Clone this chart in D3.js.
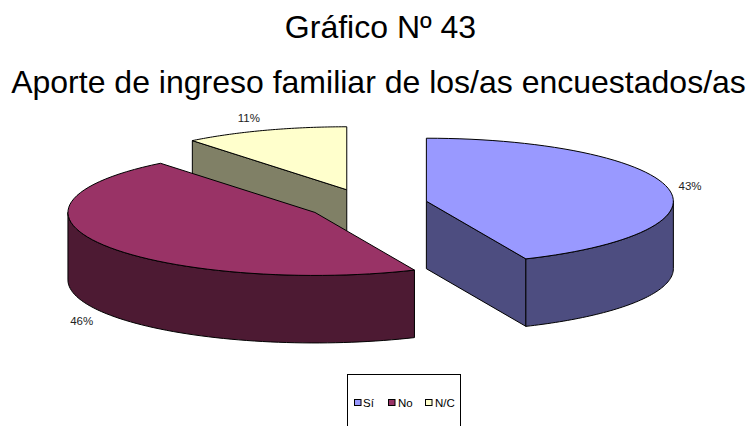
<!DOCTYPE html>
<html>
<head>
<meta charset="utf-8">
<script src="https://cdnjs.cloudflare.com/ajax/libs/d3/7.8.5/d3.min.js"></script>
<style>
html, body { margin: 0; padding: 0; background: #fff; overflow: hidden; }
text { font-family: "Liberation Sans", Arial, sans-serif; fill: #000; }
</style>
</head>
<body>
<div id="chart"></div>
<script>
// values (the labels round to 43 / 46 / 11)
var categories = ["Sí", "No", "N/C"];
var shares = [43.4, 45.85, 10.75];
var topColors = ["#9999ff", "#993366", "#ffffcc"];
var wallColors = ["#4d4d80", "#4d1a33", "#808066"];

var svgWidth = 748;
var svgHeight = 426;

// pie geometry: flattened ellipse, every slice pulled out along its middle angle
var cx = 366.9, cy = 204.4;
var rx = 247, ry = 63;
var depth = 67.5;
var explode = 0.246;

var svg = d3.select("#chart")
    .append("svg")
    .attr("width", svgWidth)
    .attr("height", svgHeight);

svg.append("text").attr("x", 380.5).attr("y", 38)
    .attr("text-anchor", "middle").style("font-size", "32px")
    .text("Gráfico Nº 43");
svg.append("text").attr("x", 378.5).attr("y", 93)
    .attr("text-anchor", "middle").style("font-size", "32px")
    .text("Aporte de ingreso familiar de los/as encuestados/as");

var topColor = d3.scaleOrdinal().domain(categories).range(topColors);
var wallColor = d3.scaleOrdinal().domain(categories).range(wallColors);
var pct = d3.format(".0f");

var pie = d3.pie().sort(null).value(function(d) { return d.share; });
var slices = pie(categories.map(function(c, i) { return { name: c, share: shares[i] }; }));

slices.forEach(function(s) {
    var mid = (s.startAngle + s.endAngle) / 2;
    s.mid = mid;
    s.x = cx + explode * rx * Math.sin(mid);
    s.y = cy - explode * ry * Math.cos(mid);
});

function pt(s, a, dy) {
    return [s.x + rx * Math.sin(a), s.y - ry * Math.cos(a) + (dy || 0)];
}

function arcPts(s, a0, a1, dy) {
    var n = 60;
    return d3.range(n + 1).map(function(i) { return pt(s, a0 + (a1 - a0) * i / n, dy); });
}

var line = d3.line();

function drawPoly(points, fill) {
    svg.append("path")
        .attr("d", line(points) + "Z")
        .attr("fill", fill)
        .attr("stroke", "#000")
        .attr("stroke-width", 1)
        .attr("stroke-linejoin", "round");
}

// radial wall seen at the cut edge of a slice
function radialWall(s, a, fill) {
    var c = [s.x, s.y], e = pt(s, a);
    drawPoly([c, e, [e[0], e[1] + depth], [c[0], c[1] + depth]], fill);
}

// outer wall between two angles
function outerWall(s, a0, a1, fill) {
    drawPoly(arcPts(s, a0, a1).concat(arcPts(s, a1, a0, depth)), fill);
}

function topFace(s, fill) {
    drawPoly([[s.x, s.y]].concat(arcPts(s, s.startAngle, s.endAngle)), fill);
}

// back to front: N/C, No, Sí
var si = slices[0], no = slices[1], nc = slices[2];

radialWall(nc, nc.startAngle, wallColor(nc.data.name));
topFace(nc, topColor(nc.data.name));

outerWall(no, no.startAngle, 1.5 * Math.PI, wallColor(no.data.name));
topFace(no, topColor(no.data.name));

radialWall(si, si.endAngle, wallColor(si.data.name));
outerWall(si, Math.PI / 2, si.endAngle, wallColor(si.data.name));
topFace(si, topColor(si.data.name));

// percent labels, nudged from the rim point at the middle of each slice
var labelNudge = { "Sí": [22, -2], "No": [-22, 76], "N/C": [-16, -12] };
svg.selectAll("text.pct")
    .data(slices)
    .enter()
    .append("text")
    .attr("class", "pct")
    .attr("x", function(d) { return pt(d, d.mid)[0] + labelNudge[d.data.name][0]; })
    .attr("y", function(d) { return pt(d, d.mid)[1] + labelNudge[d.data.name][1]; })
    .attr("text-anchor", "middle")
    .attr("dy", "0.35em")
    .style("font-size", "11.5px")
    .style("fill", "#222")
    .text(function(d) { return pct(d.value) + "%"; });

// legend, its box runs off the bottom of the picture
var legendX = d3.scaleOrdinal().domain(categories).range([354, 388, 425]);
var textX = d3.scaleOrdinal().domain(categories).range([363, 398, 435]);

svg.append("rect")
    .attr("x", 347.5).attr("y", 374.5)
    .attr("width", 113).attr("height", 70)
    .attr("fill", "#fff").attr("stroke", "#000");

var items = svg.selectAll("g.item").data(categories).enter().append("g").attr("class", "item");
items.append("rect")
    .attr("x", function(d) { return legendX(d) + 0.5; })
    .attr("y", 399.5)
    .attr("width", 6.5).attr("height", 6)
    .attr("fill", function(d) { return topColor(d); })
    .attr("stroke", "#000");
items.append("text")
    .attr("x", function(d) { return textX(d); })
    .attr("y", 406.5)
    .style("font-size", "11.5px")
    .text(function(d) { return d; });
</script>
</body>
</html>
